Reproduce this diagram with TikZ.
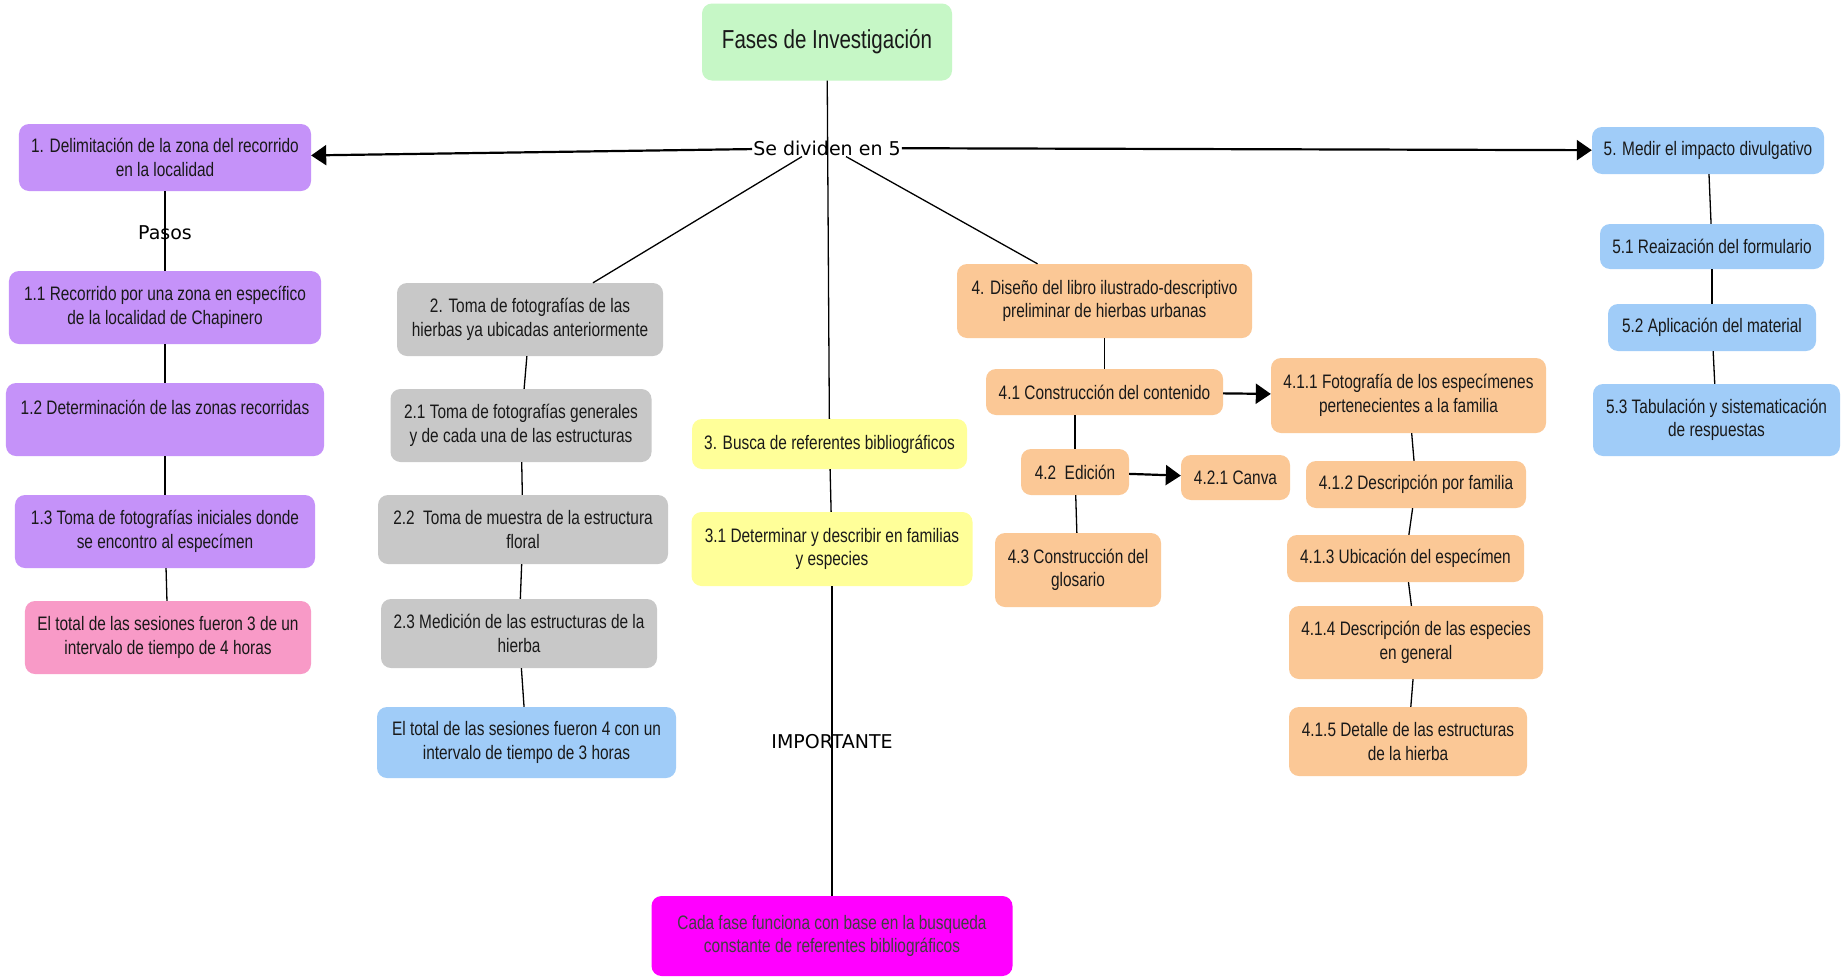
\documentclass[tikz,border=0pt]{standalone}
\usepackage{fontspec}
\usepackage{tikz}
\usetikzlibrary{arrows.meta}
\setmainfont{Liberation Sans}
\newfontfamily\boxfont[FakeStretch=0.79]{Liberation Sans}
\newfontfamily\linkfont{DejaVu Sans}
\definecolor{titlegreen}{RGB}{198,247,198}
\definecolor{phasepurple}{RGB}{197,146,249}
\definecolor{phasegray}{RGB}{200,200,200}
\definecolor{phaseyellow}{RGB}{255,255,153}
\definecolor{phaseorange}{RGB}{251,200,150}
\definecolor{phaseblue}{RGB}{160,204,248}
\definecolor{notepink}{RGB}{248,154,199}
\definecolor{notemagenta}{RGB}{255,0,255}

\begin{document}
\begin{tikzpicture}[x=1bp,y=-1bp,
    box/.style={rounded corners=10bp, align=center, inner sep=0pt, text=black!90,
        font={\boxfont\fontsize{19.5bp}{23.5bp}\selectfont}},
    linktext/.style={font={\linkfont\fontsize{19bp}{22bp}\selectfont}, inner sep=1bp},
    conn/.style={line width=1.3bp},
    arr/.style={line width=2.2bp, -{Triangle[length=15bp,width=20bp]}}]
        \path[fill=white] (0,0) rectangle (1845,976);
        % Draw the title and the branching text
        \node[box, fill=titlegreen, minimum width=250bp, minimum height=77bp,
            font={\boxfont\fontsize{26bp}{30bp}\selectfont}] (title) at (827,42) {Fases de Investigación};
        \node[linktext] (div) at (827,148) {Se dividen en 5};

        % Phase 1
        \node[box, fill=phasepurple, minimum width=292bp, minimum height=67bp] (b1) at (165,157.5) {1. Delimitación de la zona del recorrido\\en la localidad};
        \node[linktext] (pasos) at (165,233) {Pasos};
        \node[box, fill=phasepurple, minimum width=312bp, minimum height=73bp] (b11) at (165,307.5) {1.1 Recorrido por una zona en específico\\de la localidad de Chapinero};
        \node[box, fill=phasepurple, minimum width=318bp, minimum height=73bp] (b12) at (165,419.5) {1.2 Determinación de las zonas recorridas\\\mbox{}};
        \node[box, fill=phasepurple, minimum width=300bp, minimum height=73bp] (b13) at (165,531.5) {1.3 Toma de fotografías iniciales donde\\se encontro al especímen};
        \node[box, fill=notepink, minimum width=286bp, minimum height=73bp] (n1) at (168,637.5) {El total de las sesiones fueron 3 de un\\intervalo de tiempo de 4 horas};

        % Phase 2
        \node[box, fill=phasegray, minimum width=266bp, minimum height=73bp] (b2) at (530,319.5) {2. Toma de fotografías de las\\hierbas ya ubicadas anteriormente};
        \node[box, fill=phasegray, minimum width=261bp, minimum height=73bp] (b21) at (521,425.5) {2.1 Toma de fotografías generales\\y de cada una de las estructuras};
        \node[box, fill=phasegray, minimum width=290bp, minimum height=69bp] (b22) at (523,529.5) {2.2~ Toma de muestra de la estructura\\floral};
        \node[box, fill=phasegray, minimum width=276bp, minimum height=69bp] (b23) at (519,633.5) {2.3 Medición de las estructuras de la\\hierba};
        \node[box, fill=phaseblue, minimum width=299bp, minimum height=71bp] (n2) at (526.5,742.5) {El total de las sesiones fueron 4 con un\\intervalo de tiempo de 3 horas};

        % Phase 3
        \node[box, fill=phaseyellow, minimum width=275bp, minimum height=50bp] (b3) at (829.5,444) {3. Busca de referentes bibliográficos};
        \node[box, fill=phaseyellow, minimum width=281bp, minimum height=74bp] (b31) at (832,549) {3.1 Determinar y describir en familias\\y especies};
        \node[linktext] (imp) at (832,742) {IMPORTANTE};
        \node[box, fill=notemagenta, text=black!75, minimum width=361bp, minimum height=80bp] (mag) at (832,936) {Cada fase funciona con base en la busqueda\\constante de referentes bibliográficos};

        % Phase 4
        \node[box, fill=phaseorange, minimum width=295bp, minimum height=74bp] (b4) at (1104.5,301) {4. Diseño del libro ilustrado-descriptivo\\preliminar de hierbas urbanas};
        \node[box, fill=phaseorange, minimum width=237bp, minimum height=46bp] (b41) at (1104.5,392) {4.1 Construcción del contenido};
        \node[box, fill=phaseorange, minimum width=275bp, minimum height=75bp] (b411) at (1408.5,395.5) {4.1.1 Fotografía de los especímenes\\pertenecientes a la familia};
        \node[box, fill=phaseorange, minimum width=108bp, minimum height=46bp] (b42) at (1075,472) {4.2~ Edición};
        \node[box, fill=phaseorange, minimum width=109bp, minimum height=45bp] (b421) at (1235.5,477.5) {4.2.1 Canva};
        \node[box, fill=phaseorange, minimum width=166bp, minimum height=74bp] (b43) at (1078,570) {4.3 Construcción del\\glosario};
        \node[box, fill=phaseorange, minimum width=220bp, minimum height=47bp] (b412) at (1416,484.5) {4.1.2 Descripción por familia};
        \node[box, fill=phaseorange, minimum width=237bp, minimum height=47bp] (b413) at (1405.5,558.5) {4.1.3 Ubicación del especímen};
        \node[box, fill=phaseorange, minimum width=254bp, minimum height=73bp] (b414) at (1416,642.5) {4.1.4 Descripción de las especies\\en general};
        \node[box, fill=phaseorange, minimum width=238bp, minimum height=69bp] (b415) at (1408,741.5) {4.1.5 Detalle de las estructuras\\de la hierba};

        % Phase 5
        \node[box, fill=phaseblue, minimum width=232bp, minimum height=47bp] (b5) at (1708,150.5) {5. Medir el impacto divulgativo};
        \node[box, fill=phaseblue, minimum width=224bp, minimum height=45bp] (b51) at (1712,246.5) {5.1 Reaización del formulario};
        \node[box, fill=phaseblue, minimum width=208bp, minimum height=47bp] (b52) at (1712,327.5) {5.2 Aplicación del material};
        \node[box, fill=phaseblue, minimum width=247bp, minimum height=72bp] (b53) at (1716.5,420) {5.3 Tabulación y sistematicación\\de respuestas};

        % Connectors
        \draw[conn] (title) -- (b3);
        \draw[arr] (div) -- (b1);
        \draw[arr] (div) -- (b5);
        \draw[conn] ([xshift=-25bp]div.south) -- ([xshift=63bp]b2.north);
        \draw[conn] ([xshift=19bp]div.south) -- ([xshift=-67bp]b4.north);
        \foreach \a/\b in {b1/b11, b11/b12, b12/b13, b13/n1, b2/b21, b21/b22, b22/b23, b23/n2,
            b3/b31, b31/mag, b4/b41, b42/b43, b411/b412, b412/b413, b413/b414, b414/b415,
            b5/b51, b51/b52, b52/b53}
            \draw[conn] (\a) -- (\b);
        \draw[conn] (b42 |- b41.south) -- (b42.north);
        \draw[arr] (b41) -- (b411);
        \draw[arr] (b42) -- (b421);
    \end{tikzpicture}
\end{document}
